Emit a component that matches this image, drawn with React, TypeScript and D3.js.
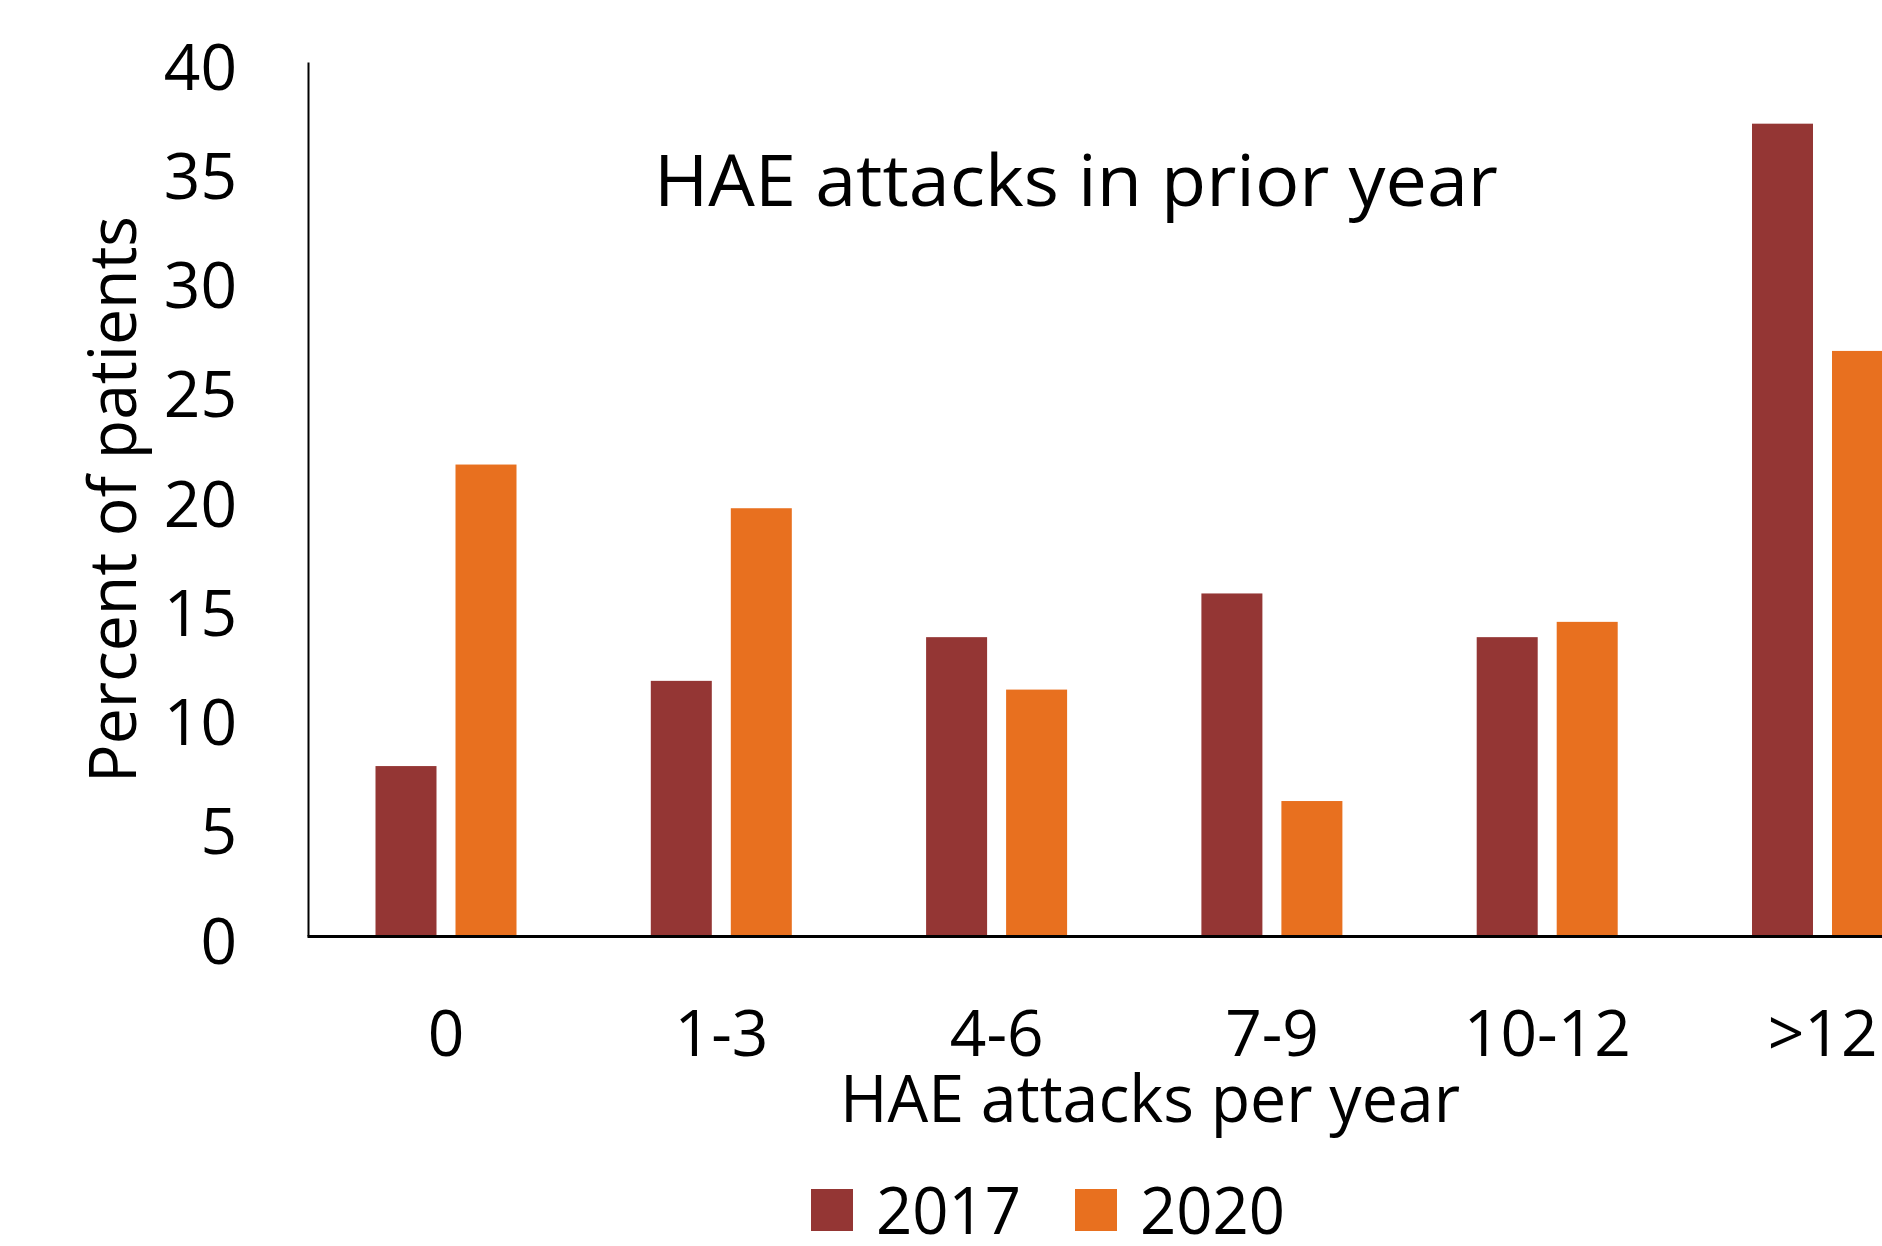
import * as d3 from "d3";

const categories = ["0", "1-3", "4-6", "7-9", "10-12", ">12"];
const seriesNames = ["2017", "2020"];
const values2017 = [7.8, 11.7, 13.7, 15.7, 13.7, 37.2];
const values2020 = [21.6, 19.6, 11.3, 6.2, 14.4, 26.8];
const yTicks = [0, 5, 10, 15, 20, 25, 30, 35, 40];

const colors = ["#943634", "#E8701F"];
const font = "'Open Sans', 'Noto Sans', sans-serif";

const App = () => {
  const width = 1882;
  const height = 1246;

  const axisX = 308.5;
  const zeroY = 936.5;
  const topY = 62.5;
  const bandStep = 275.3;

  // outer scale: one band per category (the last one runs past the edge, as in the source)
  const x0 = d3
    .scaleBand()
    .domain(categories)
    .range([axisX, axisX + bandStep * categories.length]);

  // inner scale: the two years inside each band
  const x1 = d3
    .scaleBand()
    .domain(seriesNames)
    .range([67, 208])
    .paddingInner(0.2375);

  const y = d3.scaleLinear().domain([0, 40]).range([zeroY, topY]);

  const rows = categories.map((c, i) => ({
    name: c,
    vals: [values2017[i], values2020[i]],
  }));

  return (
    <div style={{ position: "absolute", left: 0, top: 0 }}>
      <svg width={width} height={height} viewBox={`0 0 ${width} ${height}`} style={{ display: "block", background: "#fff" }}>
        {/* bars */}
        <g className="bars">
          {rows.map((d) => (
            <g key={d.name} transform={`translate(${x0(d.name)},0)`}>
              {d.vals.map((v, j) => (
                <rect
                  key={seriesNames[j]}
                  x={x1(seriesNames[j])}
                  y={y(v)}
                  width={x1.bandwidth()}
                  height={zeroY - y(v)}
                  fill={colors[j]}
                />
              ))}
            </g>
          ))}
        </g>

        {/* axes */}
        <line x1={axisX} x2={axisX} y1={topY} y2={zeroY} stroke="#000" strokeWidth={2} />
        <line x1={axisX - 1} x2={width} y1={zeroY} y2={zeroY} stroke="#000" strokeWidth={3} />

        <g className="y-ticks" fontFamily={font} fontSize={64} fill="#000">
          {yTicks.map((t) => (
            <text key={t} x={237} y={y(t) + 27} textAnchor="end">
              {t}
            </text>
          ))}
        </g>

        <g className="x-ticks" fontFamily={font} fontSize={64} fill="#000">
          {categories.map((c) => (
            <text key={c} x={x0(c) + x0.bandwidth() / 2} y={1056} textAnchor="middle">
              {c}
            </text>
          ))}
        </g>

        {/* titles */}
        <text
          x={1076}
          y={206}
          textAnchor="middle"
          fontFamily={font}
          fontSize={72}
          textLength={844}
          lengthAdjust="spacingAndGlyphs"
        >
          HAE attacks in prior year
        </text>
        <text
          x={1150}
          y={1122}
          textAnchor="middle"
          fontFamily={font}
          fontSize={66}
          textLength={620}
          lengthAdjust="spacingAndGlyphs"
        >
          HAE attacks per year
        </text>
        <text
          transform={`translate(136,${499.5}) rotate(-90)`}
          textAnchor="middle"
          fontFamily={font}
          fontSize={66}
          textLength={567}
          lengthAdjust="spacingAndGlyphs"
        >
          Percent of patients
        </text>

        {/* legend */}
        <g className="legend" fontFamily={font} fontSize={66}>
          {seriesNames.map((s, i) => {
            const lx = [811, 1075][i];
            return (
              <g key={s}>
                <rect x={lx} y={1189} width={42} height={42} fill={colors[i]} />
                <text x={lx + 65} y={1234} textLength={145} lengthAdjust="spacingAndGlyphs">
                  {s}
                </text>
              </g>
            );
          })}
        </g>
      </svg>
    </div>
  );
};

export default App;
